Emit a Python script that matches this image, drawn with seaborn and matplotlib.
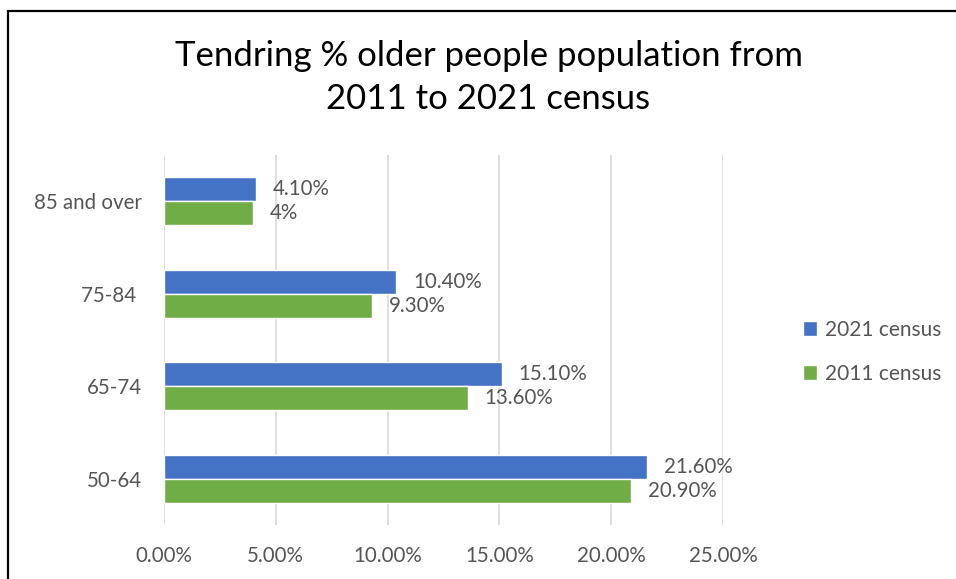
import pandas as pd
import seaborn as sns
import matplotlib.pyplot as plt
from matplotlib.patches import Rectangle
from matplotlib.ticker import FuncFormatter

ages = ['85 and over', '75-84 ', '65-74', '50-64']
pct_2021 = [4.1, 10.4, 15.1, 21.6]
pct_2011 = [4.0, 9.3, 13.6, 20.9]
labels_2021 = ['4.10%', '10.40%', '15.10%', '21.60%']
labels_2011 = ['4%', '9.30%', '13.60%', '20.90%']
series = ['2021 census', '2011 census']

df = pd.DataFrame({
    'age': ages * 2,
    'pct': pct_2021 + pct_2011,
    'census': [series[0]] * len(ages) + [series[1]] * len(ages),
})

sns.set_style('white')
plt.rcParams['font.family'] = ['Lato', 'DejaVu Sans']
txt = '#555555'

fig = plt.figure(figsize=(9.56, 5.79), dpi=100)
ax = fig.add_axes([0.1715, 0.0933, 0.5847, 0.639])

sns.barplot(data=df, y='age', x='pct', hue='census', order=ages,
            hue_order=series, palette=['#4472C4', '#70AD47'],
            saturation=1, width=0.52, orient='h', ax=ax)

for cont, lbls in zip(ax.containers, [labels_2021, labels_2011]):
    ax.bar_label(cont, labels=lbls, padding=12, fontsize=14.8, color=txt)

ax.set_xlim(0, 25)
ax.set_xticks([0, 5, 10, 15, 20, 25])
ax.xaxis.set_major_formatter(FuncFormatter(lambda v, p: f'{v:.2f}%'))
ax.grid(axis='x', color='#D9D9D9', lw=1.2)
ax.set_axisbelow(True)
sns.despine(ax=ax, left=True, bottom=True)
ax.tick_params(axis='x', length=0, pad=15, labelsize=14.8, labelcolor=txt)
ax.tick_params(axis='y', length=0, pad=16, labelsize=14.8, labelcolor=txt)
ax.set_xlabel('')
ax.set_ylabel('')

ax.legend(loc='center left', bbox_to_anchor=(0.82, 0.392),
          bbox_transform=fig.transFigure, frameon=False, fontsize=15,
          handlelength=0.7, handleheight=0.7, handletextpad=0.35,
          labelspacing=1.15, labelcolor=txt)

fig.text(0.511, 0.866, 'Tendring % older people population from\n2011 to 2021 census',
         ha='center', va='center', fontsize=25, color='black', linespacing=1.4)

fig.patches.append(Rectangle((8 / 956, -0.2), 2, 1.2 - 11 / 579,
                             transform=fig.transFigure, fill=False,
                             edgecolor='black', lw=1.6))

fig.savefig('out.png', dpi=100)
